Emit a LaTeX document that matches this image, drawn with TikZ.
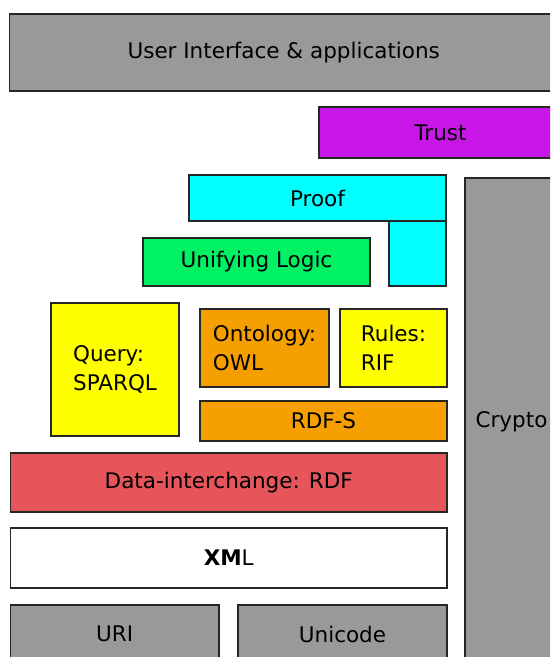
\documentclass[tikz,border=0pt]{standalone}
\usepackage{fontspec}
\setmainfont{DejaVu Sans}
\usepackage{xcolor}
\usepackage{tikz}

\definecolor{stackgray}{RGB}{153,153,153}
\definecolor{trustpurple}{RGB}{200,22,230}
\definecolor{proofcyan}{RGB}{0,255,255}
\definecolor{logicgreen}{RGB}{0,242,100}
\definecolor{stackyellow}{RGB}{255,255,0}
\definecolor{stackorange}{RGB}{245,160,0}
\definecolor{rdfred}{RGB}{230,85,90}

\begin{document}
\begin{tikzpicture}[x=1pt,y=-1pt,
    layer/.style={draw=black!85,line width=1.3pt,inner sep=0pt,
        font=\fontsize{21.5}{29}\selectfont,align=left}]
                \useasboundingbox (0,0) rectangle (550,657);
                \clip (0,0) rectangle (550,657);
                % top of the stack
                \node[layer,fill=stackgray,minimum width=548.5pt,minimum height=77pt] (ui) at (283.75,52.5) {User Interface \& applications};
                \node[layer,fill=trustpurple,minimum width=243pt,minimum height=51pt] (trust) at (440.5,132.5) {Trust};
                \node[layer,fill=proofcyan,minimum width=257pt,minimum height=46pt] (proof) at (317.5,198) {Proof};
                \node[layer,fill=proofcyan,minimum width=57pt,minimum height=65pt] (proofleg) at (417.5,253.5) {};
                \node[layer,fill=logicgreen,minimum width=227pt,minimum height=48pt] (logic) at (256.5,262) {Unifying Logic};
                \node[layer,fill=stackgray,minimum width=93pt,minimum height=487pt] (crypto) at (511.5,421.5) {Crypto};
                % middle layers
                \node[layer,fill=stackyellow,minimum width=128pt,minimum height=133pt] (query) at (115,369.5) {Query:\\SPARQL};
                \node[layer,fill=stackorange,minimum width=129pt,minimum height=78pt] (owl) at (264.5,348) {Ontology:\\OWL};
                \node[layer,fill=stackyellow,minimum width=107pt,minimum height=78pt] (rif) at (393.5,348) {Rules:\\RIF};
                \node[layer,fill=stackorange,minimum width=247pt,minimum height=40pt] (rdfs) at (323.5,421) {RDF-S};
                \node[layer,fill=rdfred,minimum width=436.5pt,minimum height=59pt] (rdf) at (228.75,482.5) {Data-interchange: RDF};
                % bottom
                \node[layer,fill=white,minimum width=436.5pt,minimum height=60pt] (xml) at (228.75,558) {\textbf{XM}L};
                \node[layer,fill=stackgray,minimum width=208.5pt,minimum height=58pt] (uri) at (114.75,634) {URI};
                \node[layer,fill=stackgray,minimum width=209pt,minimum height=58pt] (unicode) at (342.5,634) {Unicode};
            \end{tikzpicture}
\end{document}
